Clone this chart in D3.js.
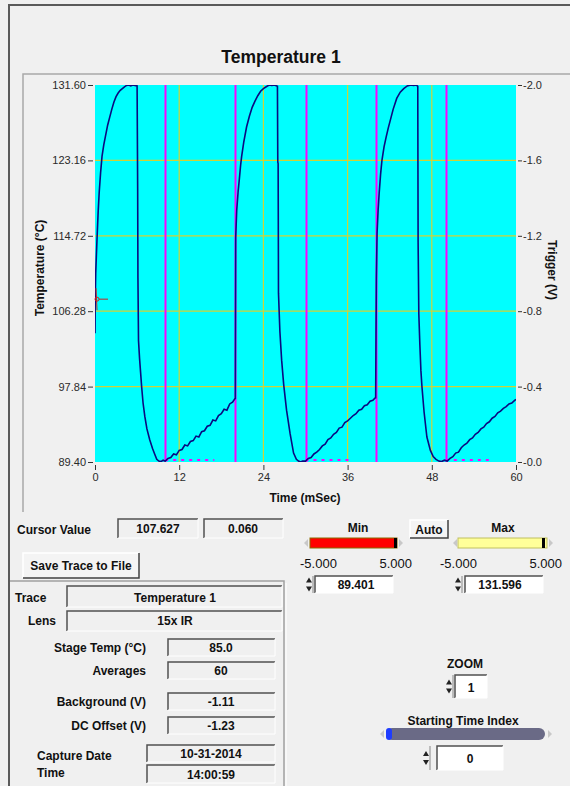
<!DOCTYPE html>
<html lang="en">
<head>
<meta charset="UTF-8">
<title>Temperature 1</title>
<style>
  body { margin: 0; background: #f0f0f0; }
  svg { display: block; font-family: "Liberation Sans", Arial, sans-serif; }
  .tick text { font-size: 11px; fill: #2a2a2a; }
  .tick line { stroke: #333; }
  .lbl { font-weight: bold; font-size: 12px; fill: #111; }
  .val { font-weight: bold; font-size: 12px; fill: #111; text-anchor: middle; }
</style>
</head>
<body>
<div id="chart"></div>
<script src="https://d3js.org/d3.v7.min.js"></script>
<script>
const width = 570, height = 786;

// temperature trace (ms, degC)
const timeMs = [
  0, 0.03, 0.1, 0.2, 0.3, 0.45, 0.6, 0.8, 1.0, 1.25, 1.5, 1.8, 2.1, 2.4, 2.7, 3.0, 3.3, 3.6, 3.9, 4.2, 4.5, 4.8, 5.1, 5.4, 5.7, 6.0,
  6.08, 6.12, 6.2, 6.35, 6.5, 6.65, 6.85, 7.1, 7.4, 7.8, 8.2, 8.5, 8.8, 9.1, 9.4, 9.7, 10.0,
  10.4, 10.8, 11.2, 11.6, 12.0, 12.4, 12.8, 13.2, 13.6, 14.0, 14.4, 14.8, 15.2, 15.6, 16.0, 16.4, 16.8, 17.2, 17.6, 18.0, 18.4, 18.8, 19.2, 19.6, 19.95,
  20.0, 20.05, 20.2, 20.4, 20.55, 20.75, 20.9, 21.2, 21.6, 22.0, 22.4, 22.8, 23.2, 23.6, 24.0, 24.4, 24.8, 25.2, 25.6, 26.0,
  26.05, 26.1, 26.15, 26.35, 26.6, 26.9, 27.3, 27.8, 28.3, 28.7, 29.0, 29.3, 29.6, 30.0,
  30.4, 30.8, 31.2, 31.6, 32.0, 32.4, 32.8, 33.2, 33.6, 34.0, 34.4, 34.8, 35.2, 35.6, 36.0, 36.4, 36.8, 37.2, 37.6, 38.0, 38.4, 38.8, 39.2, 39.6, 39.95,
  40.0, 40.05, 40.1, 40.2, 40.35, 40.5, 40.7, 40.9, 41.2, 41.5, 41.8, 42.1, 42.5, 43.0, 43.5, 44.0, 44.5, 45.0, 45.4, 45.8, 46.0,
  46.05, 46.15, 46.3, 46.45, 46.6, 46.9, 47.3, 47.8, 48.2, 48.6, 49.0, 49.4, 49.8, 50.2,
  50.6, 51.0, 51.4, 51.8, 52.2, 52.6, 53.0, 53.4, 53.8, 54.2, 54.6, 55.0, 55.4, 55.8, 56.2, 56.6, 57.0, 57.4, 57.8, 58.2, 58.6, 59.0, 59.4, 59.8, 60.0
];
const tempC = [
  103.8, 107.5, 110.5, 112.6, 114.6, 117.4, 119.6, 121.8, 123.6, 124.9, 125.9, 127.1, 128.0, 128.9, 129.7, 130.3, 130.7, 131.0, 131.2, 131.4, 131.55, 131.6, 131.5, 131.6, 131.55, 131.5,
  120.0, 110.0, 103.0, 101.0, 99.4, 97.8, 96.0, 94.5, 93.1, 91.9, 90.9, 90.3, 89.7, 89.5, 89.45, 89.6, 89.5,
  89.8, 89.9, 90.3, 90.2, 90.7, 90.8, 91.3, 91.2, 91.7, 91.8, 92.3, 92.2, 92.8, 92.9, 93.4, 93.5, 94.1, 94.0, 94.6, 94.8, 95.3, 95.2, 95.9, 96.1, 96.5,
  96.5, 114.5, 117.6, 119.7, 120.9, 122.6, 123.6, 125.2, 126.9, 128.1, 129.1, 129.8, 130.4, 130.9, 131.2, 131.4, 131.6, 131.55, 131.6, 131.45,
  123.0, 122.8, 108.3, 104.0, 100.8, 98.0, 95.2, 92.6, 90.4, 89.7, 89.5, 89.4, 89.5, 89.5,
  89.8, 89.9, 90.3, 90.5, 90.8, 91.2, 91.4, 91.9, 92.1, 92.5, 92.7, 93.2, 93.3, 93.8, 94.0, 94.3, 94.6, 94.8, 95.2, 95.3, 95.7, 95.8, 96.2, 96.3, 96.6,
  96.6, 103.6, 110.0, 115.0, 117.6, 119.5, 121.6, 123.2, 124.7, 125.8, 126.8, 127.7, 128.9, 130.1, 130.8, 131.2, 131.5, 131.6, 131.55, 131.6, 131.45,
  114.0, 106.0, 102.5, 99.6, 97.8, 95.0, 92.2, 90.7, 90.0, 89.7, 89.5, 89.45, 89.6, 89.5,
  89.8, 90.0, 90.4, 90.5, 91.0, 91.3, 91.5, 91.9, 92.1, 92.5, 92.7, 93.1, 93.3, 93.7, 93.9, 94.3, 94.5, 94.9, 95.1, 95.4, 95.6, 95.9, 96.0, 96.3, 96.4
];

// trigger signal (V); the flat parts sit just outside the -2.0 .. 0.0 window
const trigTimeMs = [0, 10, 10, 20, 20, 30, 30, 40, 40, 50, 50, 60];
const trigV = [-2.1, -2.1, 0.06, 0.06, -2.1, -2.1, 0.06, 0.06, -2.1, -2.1, 0.06, 0.06];
// ringing just above 0 V after each falling edge
const ringStartMs = [10, 30, 50];
const ringEndMs = [17, 36.5, 56.5];

const timeTicks = [0, 12, 24, 36, 48, 60];
const tempTicks = [89.40, 97.84, 106.28, 114.72, 123.16, 131.60];
const trigTicks = [0, -0.4, -0.8, -1.2, -1.6, -2.0];
const trigTickLabels = ["-0.0", "-0.4", "-0.8", "-1.2", "-1.6", "-2.0"];

const cursorTimeMs = 0, cursorTemp = 107.627, cursorTrig = 0.060;
const minLimit = 89.401, maxLimit = 131.596;

const svg = d3.select("#chart").append("svg")
  .attr("width", width).attr("height", height);

// window frames
svg.append("path").attr("d", "M9,786V5H570").attr("fill", "none")
  .attr("stroke", "#5a5a5a").attr("stroke-width", 2);
svg.append("path").attr("d", "M23,512V74H570").attr("fill", "none")
  .attr("stroke", "#a8a8a8").attr("stroke-width", 1.5);
svg.append("path").attr("d", "M10,581H284V786").attr("fill", "none")
  .attr("stroke", "#a0a0a0").attr("stroke-width", 1.5);
svg.append("path").attr("d", "M286,583V786").attr("fill", "none")
  .attr("stroke", "#ffffff").attr("stroke-width", 1);

svg.append("text").attr("x", 281).attr("y", 63).attr("text-anchor", "middle")
  .attr("font-size", 17.5).attr("font-weight", "bold").attr("fill", "#111")
  .text("Temperature 1");

// plot
const x = d3.scaleLinear().domain([0, 60]).range([95, 516]);
const y = d3.scaleLinear().domain([89.40, 131.60]).range([462, 85]);
const yT = d3.scaleLinear().domain([0, -2]).range([462, 85]);
const px = v => Math.round(v) + 0.5;

svg.append("rect").attr("x", x(0)).attr("y", y(131.6))
  .attr("width", x(60) - x(0)).attr("height", y(89.4) - y(131.6))
  .attr("fill", "#00ffff");

svg.append("clipPath").attr("id", "clip").append("rect")
  .attr("x", x(0)).attr("y", y(131.6))
  .attr("width", x(60) - x(0)).attr("height", y(89.4) - y(131.6));

const plot = svg.append("g").attr("clip-path", "url(#clip)");

plot.selectAll(".vgrid").data(timeTicks.slice(1, -1)).join("line")
  .attr("x1", d => x(d)).attr("x2", d => x(d))
  .attr("y1", y(131.6)).attr("y2", y(89.4))
  .attr("stroke", "#d2d236").attr("stroke-width", 1.2);
plot.selectAll(".hgrid").data(tempTicks.slice(1, -1)).join("line")
  .attr("x1", x(0)).attr("x2", x(60))
  .attr("y1", d => y(d)).attr("y2", d => y(d))
  .attr("stroke", "#d2d236").attr("stroke-width", 1.2);

const trig = trigTimeMs.map((t, i) => [px(x(t)), yT(trigV[i])]);
plot.append("path").datum(trig)
  .attr("d", d3.line())
  .attr("fill", "none").attr("stroke", "#ff00ff").attr("stroke-width", 2);
plot.selectAll(".ring").data(ringStartMs).join("line")
  .attr("x1", d => x(d)).attr("x2", (d, i) => x(ringEndMs[i]))
  .attr("y1", yT(-0.01)).attr("y2", yT(-0.01))
  .attr("stroke", "#ff00ff").attr("stroke-width", 2)
  .attr("stroke-dasharray", "3,5");

const trace = timeMs.map((t, i) => [t, tempC[i]]);
plot.append("path").datum(trace)
  .attr("d", d3.line().x(d => x(d[0])).y(d => y(d[1])))
  .attr("fill", "none").attr("stroke", "#0a0a80").attr("stroke-width", 1.6);

// cursor
const cx = x(cursorTimeMs) + 2, cy = y(cursorTemp);
svg.append("line").attr("x1", cx - 1).attr("x2", cx).attr("y1", cy - 11).attr("y2", cy + 11)
  .attr("stroke", "#cc2222").attr("stroke-width", 1);
svg.append("line").attr("x1", cx + 2).attr("x2", cx + 11).attr("y1", cy).attr("y2", cy)
  .attr("stroke", "#cc2222").attr("stroke-width", 1);
svg.append("circle").attr("cx", cx).attr("cy", cy).attr("r", 2)
  .attr("fill", "none").attr("stroke", "#cc2222").attr("stroke-width", 1);

// axes
const axL = svg.append("g").attr("transform", "translate(93,0)")
  .call(d3.axisLeft(y).tickValues(tempTicks).tickFormat(d => d.toFixed(2)).tickSize(5).tickPadding(2));
const axR = svg.append("g").attr("transform", "translate(518,0)")
  .call(d3.axisRight(yT).tickValues(trigTicks).tickFormat((d, i) => trigTickLabels[i]).tickSize(4).tickPadding(1));
const axB = svg.append("g").attr("transform", "translate(0,465)")
  .call(d3.axisBottom(x).tickValues(timeTicks).tickSize(5).tickPadding(3));
[axL, axR, axB].forEach(a => {
  a.select(".domain").remove();
  a.selectAll("text").attr("font-family", null).attr("font-size", null);
});

svg.append("text").attr("transform", "translate(44,268) rotate(-90)")
  .attr("text-anchor", "middle").attr("class", "lbl")
  .text("Temperature (°C)");
svg.append("text").attr("transform", "translate(548,270) rotate(90)")
  .attr("text-anchor", "middle").attr("class", "lbl")
  .text("Trigger (V)");
svg.append("text").attr("x", 305).attr("y", 502).attr("text-anchor", "middle")
  .attr("class", "lbl").text("Time (mSec)");

// widgets
function sunken(x0, y0, w, h, fill) {
  svg.append("rect").attr("x", x0).attr("y", y0).attr("width", w).attr("height", h)
    .attr("fill", fill || "#f0f0f0");
  svg.append("path").attr("d", `M${x0},${y0 + h}V${y0}H${x0 + w}`)
    .attr("fill", "none").attr("stroke", "#505050").attr("stroke-width", 1.5);
  svg.append("path").attr("d", `M${x0},${y0 + h}H${x0 + w}V${y0}`)
    .attr("fill", "none").attr("stroke", "#ffffff").attr("stroke-width", 1);
}
function raised(x0, y0, w, h) {
  svg.append("rect").attr("x", x0).attr("y", y0).attr("width", w).attr("height", h)
    .attr("fill", "#f4f4f4");
  svg.append("path").attr("d", `M${x0},${y0 + h}V${y0}H${x0 + w}`)
    .attr("fill", "none").attr("stroke", "#ffffff").attr("stroke-width", 1.5);
  svg.append("path").attr("d", `M${x0},${y0 + h}H${x0 + w}V${y0}`)
    .attr("fill", "none").attr("stroke", "#404040").attr("stroke-width", 1.5);
}
function label(x0, y0, txt, anchor, size) {
  svg.append("text").attr("x", x0).attr("y", y0).attr("class", "lbl")
    .attr("text-anchor", anchor || "start").attr("font-size", size || 12).text(txt);
}
function value(x0, y0, txt, size) {
  svg.append("text").attr("x", x0).attr("y", y0).attr("class", "val")
    .attr("font-size", size || 12).text(txt);
}
function spinner(x0, y0, h) {
  const m = y0 + h / 2;
  svg.append("path").attr("d", `M${x0},${m - 2}l3,-5l3,5z M${x0},${m + 2}l3,5l3,-5z`)
    .attr("fill", "#222");
  svg.append("line").attr("x1", x0 + 7).attr("x2", x0 + 7).attr("y1", y0).attr("y2", y0 + h)
    .attr("stroke", "#888");
}
function arrows(x0, x1, m) {
  svg.append("path").attr("d", `M${x0},${m}l4,-4v8z M${x1},${m}l-4,-4v8z`)
    .attr("fill", "#c8c8c8");
}

label(17, 534, "Cursor Value");
sunken(118, 519, 80, 19); value(158, 533, cursorTemp.toFixed(3));
sunken(204, 519, 79, 19); value(243, 533, cursorTrig.toFixed(3));

raised(23, 553, 116, 25);
label(81, 570, "Save Trace to File", "middle", 11);

label(15, 602, "Trace", "start", 15);
sunken(67, 586, 215, 21); value(175, 602, "Temperature 1", 14);
label(28, 625, "Lens", "start", 12);
sunken(67, 611, 215, 20); value(175, 625, "15x IR");

label(146, 652, "Stage Temp  (°C)", "end");
sunken(168, 639, 107, 17); value(221, 652, "85.0");
label(146, 675, "Averages", "end");
sunken(168, 662, 107, 17); value(221, 675, "60");
label(146, 706, "Background (V)", "end");
sunken(168, 693, 107, 17); value(221, 706, "-1.11");
label(146, 730, "DC Offset (V)", "end");
sunken(168, 717, 107, 17); value(221, 730, "-1.23");
label(37, 760, "Capture Date");
sunken(147, 745, 128, 17); value(211, 758, "10-31-2014");
label(37, 777, "Time");
sunken(147, 765, 128, 18); value(211, 779, "14:00:59");

// Min / Max sliders
label(358, 532, "Min", "middle", 12);
label(503, 532, "Max", "middle", 12);
raised(410, 520, 38, 18);
label(429, 534, "Auto", "middle", 12);

arrows(304, 403, 543);
svg.append("rect").attr("x", 310).attr("y", 538).attr("width", 87).attr("height", 10)
  .attr("fill", "#ff0000").attr("stroke", "#8a6a00").attr("stroke-width", 1);
svg.append("rect").attr("x", 394).attr("y", 538).attr("width", 3).attr("height", 10).attr("fill", "#000");
arrows(453, 553, 543);
svg.append("rect").attr("x", 458).attr("y", 538).attr("width", 89).attr("height", 10)
  .attr("fill", "#ffff99").attr("stroke", "#c0c060").attr("stroke-width", 1);
svg.append("rect").attr("x", 542).attr("y", 538).attr("width", 3).attr("height", 10).attr("fill", "#000");

svg.append("text").attr("x", 300).attr("y", 568).attr("font-size", 13).attr("fill", "#111").text("-5.000");
svg.append("text").attr("x", 412).attr("y", 568).attr("font-size", 13).attr("fill", "#111").attr("text-anchor", "end").text("5.000");
svg.append("text").attr("x", 440).attr("y", 568).attr("font-size", 13).attr("fill", "#111").text("-5.000");
svg.append("text").attr("x", 562).attr("y", 568).attr("font-size", 13).attr("fill", "#111").attr("text-anchor", "end").text("5.000");

spinner(306, 576, 17);
sunken(315, 576, 78, 17, "#ffffff"); value(356, 589, minLimit.toFixed(3));
spinner(455, 576, 17);
sunken(465, 576, 78, 17, "#ffffff"); value(500, 589, maxLimit.toFixed(3));

// zoom / starting index
label(465, 668, "ZOOM", "middle", 13);
spinner(446, 675, 23);
sunken(455, 675, 32, 23, "#ffffff"); value(471, 692, "1", 13);

label(463, 725, "Starting Time Index", "middle", 13);
arrows(380, 552, 734);
svg.append("rect").attr("x", 386).attr("y", 728).attr("width", 159).attr("height", 12)
  .attr("rx", 6).attr("fill", "#6a6a86");
svg.append("rect").attr("x", 386).attr("y", 728).attr("width", 6).attr("height", 12)
  .attr("rx", 3).attr("fill", "#1e3cff");
spinner(423, 746, 24);
sunken(437, 746, 66, 24, "#ffffff"); value(470, 763, "0", 13);
</script>
</body>
</html>
